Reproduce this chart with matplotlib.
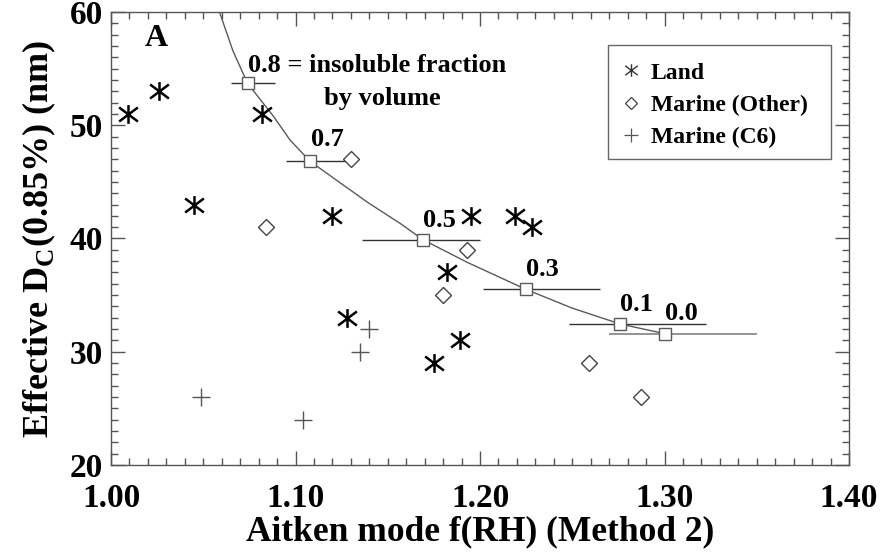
import numpy as np
import matplotlib
matplotlib.use("Agg")
import matplotlib.pyplot as plt
from matplotlib.lines import Line2D
from matplotlib.patches import Rectangle
from matplotlib.path import Path
from matplotlib.ticker import MultipleLocator

# observations: Aitken mode f(RH) vs effective critical diameter (nm)
land_x = [1.009, 1.026, 1.082, 1.045, 1.120, 1.128, 1.195, 1.219, 1.228, 1.182, 1.189, 1.175]
land_y = [51, 53, 51, 43, 42, 33, 42, 42, 41, 37, 31, 29]

marine_other_x = [1.084, 1.130, 1.193, 1.180, 1.259, 1.287]
marine_other_y = [41, 47, 39, 35, 29, 26]

marine_c6_x = [1.140, 1.135, 1.049, 1.104]
marine_c6_y = [32, 30, 26, 24]

# model curve for varying insoluble volume fraction
curve_x = [1.059, 1.066, 1.074, 1.088, 1.097, 1.108, 1.139, 1.157, 1.169, 1.193, 1.225, 1.250, 1.276, 1.300]
curve_y = [59.9, 56.6, 53.7, 50.8, 48.7, 46.8, 43.2, 41.3, 39.9, 37.9, 35.5, 33.85, 32.45, 31.6]

frac_labels = ["0.8", "0.7", "0.5", "0.3", "0.1", "0.0"]
frac_x = [1.074, 1.108, 1.169, 1.225, 1.276, 1.300]
frac_y = [53.7, 46.8, 39.9, 35.5, 32.45, 31.6]
frac_xlo = [1.065, 1.095, 1.136, 1.2015, 1.2485, 1.270]
frac_xhi = [1.089, 1.128, 1.200, 1.265, 1.3225, 1.350]
# where each fraction label sits (text centre)
label_x = [1.0743, 1.117, 1.178, 1.234, 1.285, 1.309]
label_y = [55.3, 48.7, 41.6, 37.3, 34.2, 33.4]

# asterisk: vertical stroke plus two wide diagonals
STAR = Path(
    [(0, -1), (0, 1), (-1, -0.75), (1, 0.75), (-1, 0.75), (1, -0.75)],
    [Path.MOVETO, Path.LINETO] * 3,
)


def main() -> None:
    plt.rcParams["font.family"] = ["Liberation Serif", "DejaVu Serif"]
    plt.rcParams["font.weight"] = "bold"
    plt.rcParams["axes.labelweight"] = "bold"
    plt.rcParams["mathtext.fontset"] = "custom"
    plt.rcParams["mathtext.rm"] = "Liberation Serif:bold"
    plt.rcParams["mathtext.bf"] = "Liberation Serif:bold"

    fig = plt.figure(figsize=(8.84, 5.56), dpi=100)
    ax = fig.add_axes([0.1256, 0.1637, 0.8348, 0.8147])

    grey = "#5a5a5a"

    # curve with error bars
    ax.plot(curve_x, curve_y, color=grey, lw=1.0, zorder=2)
    ax.hlines(frac_y[:-1], frac_xlo[:-1], frac_xhi[:-1], color="#333333", lw=1.0, zorder=2)
    ax.hlines(frac_y[-1], frac_xlo[-1], frac_xhi[-1], color="#8a8a8a", lw=1.3, zorder=2)
    ax.plot(frac_x, frac_y, ls="none", marker="s", ms=8, mfc="white", mec=grey, mew=1.0, zorder=3)

    # data points
    ax.plot(land_x, land_y, ls="none", marker=STAR, ms=13.5, mec="black", mew=1.8, zorder=4)
    ax.plot(marine_other_x, marine_other_y, ls="none", marker="D", ms=8.5,
            mfc="white", mec="#444444", mew=1.0, zorder=4)
    ax.plot(marine_c6_x, marine_c6_y, ls="none", marker="+", ms=13, mec="#555555", mew=1.0, zorder=4)

    # fraction labels
    ax.text(label_x[0], label_y[0], frac_labels[0] + " = insoluble fraction", fontsize=19,
            ha="left", va="center")
    ax.text(1.147, 52.4, "by volume", fontsize=19, ha="center", va="center")
    for lbl, lx, ly in zip(frac_labels[1:], label_x[1:], label_y[1:]):
        ax.text(lx, ly, lbl, fontsize=19, ha="center", va="center")

    ax.text(1.0244, 57.7, "A", fontsize=23, ha="center", va="center")

    ax.set_xlim(1.0, 1.4)
    ax.set_ylim(20, 60)
    ax.xaxis.set_minor_locator(MultipleLocator(0.01))
    ax.yaxis.set_major_locator(MultipleLocator(10))
    ax.yaxis.set_minor_locator(MultipleLocator(1))
    ax.set_xticks([1.0, 1.1, 1.2, 1.3, 1.4])
    ax.set_xticklabels(["1.00", "1.10", "1.20", "1.30", "1.40"])
    ax.tick_params(which="both", direction="in", top=True, right=True, color="#555555", width=1.0)
    ax.tick_params(which="major", length=10)
    ax.tick_params(which="minor", length=5)
    ax.tick_params(axis="x", labelsize=24, pad=13)
    ax.tick_params(axis="y", labelsize=24, pad=6)
    for s in ax.spines.values():
        s.set_color("#555555")
        s.set_linewidth(1.0)

    ax.set_xlabel("Aitken mode f(RH) (Method 2)", fontsize=25.5, labelpad=1)
    ax.set_ylabel(r"Effective D$_{\rm C}$(0.85%) (nm)", fontsize=26, labelpad=8)

    # legend box drawn separately so the padding can be wider on the right
    box_x0, box_y0, box_x1, box_y1 = 0.6734, 0.6755, 0.9756, 0.9272
    ax.add_patch(Rectangle((box_x0, box_y0), box_x1 - box_x0, box_y1 - box_y0,
                           transform=ax.transAxes, facecolor="white", edgecolor="#666666",
                           lw=1.0, zorder=5))
    handles = [
        Line2D([], [], ls="none", marker=STAR, ms=9, mec="#333333", mew=1.0),
        Line2D([], [], ls="none", marker="D", ms=6, mfc="white", mec="#444444", mew=0.9),
        Line2D([], [], ls="none", marker="+", ms=10, mec="#555555", mew=0.9),
    ]
    leg = ax.legend(handles, ["Land", "Marine (Other)", "Marine (C6)"],
                    loc="upper left", bbox_to_anchor=(box_x0 + 0.002, box_y1 - 0.012),
                    fontsize=17, frameon=False, handlelength=0.8, handletextpad=0.45,
                    borderpad=0.5, labelspacing=0.45, borderaxespad=0)
    leg.set_zorder(6)

    plt.savefig("out.png", dpi=100)
    plt.close()


if __name__ == '__main__':
    main()
